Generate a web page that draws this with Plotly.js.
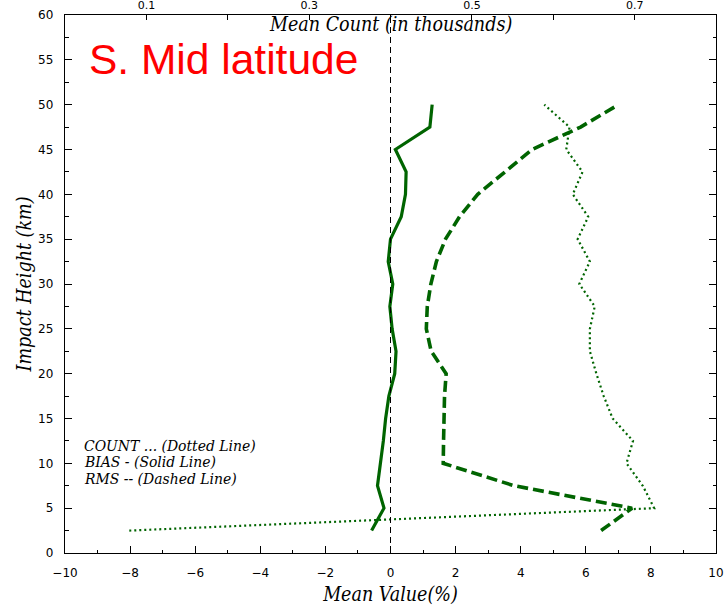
<!DOCTYPE html>
<html>
<head>
<meta charset="utf-8">
<script src="https://cdn.plot.ly/plotly-3.0.1.min.js"></script>
<style>html,body{margin:0;padding:0;background:#fff;}#chart{width:725px;height:606px;}</style>
</head>
<body>
<div id="chart"></div>
<script>
// Impact heights (km)
const heights = [2.5, 5, 7.5, 10, 12.5, 15, 17.5, 20, 22.5, 25, 27.5, 30, 32.5, 35, 37.5, 40, 42.5, 45, 47.5, 50];
// Mean count (thousands) - dotted line, top axis
const countK = [0.079, 0.724, 0.710, 0.690, 0.698, 0.673, 0.662, 0.653, 0.645, 0.645, 0.651, 0.632, 0.645, 0.630, 0.643, 0.624, 0.636, 0.616, 0.620, 0.589];
// Bias (%) - solid line
const bias = [-0.58, -0.20, -0.40, -0.30, -0.22, -0.15, -0.05, 0.13, 0.17, 0.05, -0.02, 0.07, -0.07, 0.00, 0.33, 0.46, 0.48, 0.15, 1.21, 1.28];
// RMS (%) - dashed line
const rms = [6.47, 7.42, 3.80, 1.62, 1.63, 1.64, 1.66, 1.71, 1.25, 1.10, 1.13, 1.24, 1.41, 1.69, 2.12, 2.68, 3.53, 4.35, 5.84, 7.00];
// Top axis tick labels
const countTicks = [0.1, 0.2, 0.3, 0.4, 0.5, 0.6, 0.7];
const countTickText = ['0.1', '', '0.3', '', '0.5', '', '0.7'];

const green = '#006400';
const serifFam = 'DejaVu Serif Condensed, DejaVu Serif, serif';
const serifItalic = {family: serifFam, size: 19.5, color: '#000', style: 'italic'};
const legendFont = {family: serifFam, size: 15.5, color: '#000', style: 'italic'};

const traces = [
  {x: countK, y: heights, xaxis: 'x2', yaxis: 'y', mode: 'lines', name: 'COUNT',
   line: {color: green, width: 2.2, dash: '2px,3px'}, hoverinfo: 'skip'},
  {x: bias, y: heights, mode: 'lines', name: 'BIAS',
   line: {color: green, width: 3.2}},
  {x: rms, y: heights, mode: 'lines', name: 'RMS',
   line: {color: green, width: 3.6, dash: '11px,5px'}}
];

const P = (px) => (px - 65) / 651;
const Q = (py) => (553 - py) / 538;

const layout = {
  width: 725, height: 606,
  margin: {l: 65, r: 9, t: 15, b: 53},
  paper_bgcolor: '#fff', plot_bgcolor: '#fff',
  showlegend: false,
  font: {family: 'DejaVu Sans', size: 12, color: '#000'},
  xaxis: {
    range: [-10, 10], tickvals: [-10, -8, -6, -4, -2, 0, 2, 4, 6, 8, 10],
    ticktext: ['\u221210', '\u22128', '\u22126', '\u22124', '\u22122', '0', '2', '4', '6', '8', '10'],
    ticks: 'inside', ticklen: 7, tickcolor: '#000', tickwidth: 1,
    minor: {dtick: 1, ticks: 'inside', ticklen: 3.5, tickcolor: '#000', showgrid: false},
    showline: true, linecolor: '#000', linewidth: 1.2, mirror: false,
    showgrid: false, zeroline: false, ticklabelstandoff: 8,
    title: {text: 'Mean Value(%)', font: serifItalic, standoff: 9}
  },
  xaxis2: {
    overlaying: 'x', side: 'top', range: [0, 0.8],
    tickvals: countTicks, ticktext: countTickText,
    ticks: 'inside', ticklen: 5, tickcolor: '#000',
    showline: true, linecolor: '#000', linewidth: 1.2,
    showgrid: false, zeroline: false, tickfont: {family: 'DejaVu Sans', size: 11},
    ticklabelstandoff: 0
  },
  yaxis: {
    range: [0, 60], dtick: 5, tick0: 0,
    ticks: 'inside', ticklen: 7, tickcolor: '#000',
    minor: {dtick: 2.5, ticks: 'inside', ticklen: 3.5, tickcolor: '#000', showgrid: false},
    showline: true, linecolor: '#000', linewidth: 1.2, mirror: 'ticks',
    showgrid: false, zeroline: false, ticklabelstandoff: 8,
    title: {text: 'Impact Height (km)', font: serifItalic, standoff: 1}
  },
  shapes: [
    {type: 'line', xref: 'x', yref: 'paper', x0: 0, x1: 0, y0: 0, y1: 1,
     line: {color: '#000', width: 1, dash: '6px,4px'}}
  ],
  annotations: [
    {text: 'S. Mid latitude', xref: 'paper', yref: 'paper', x: P(87), y: Q(59),
     xanchor: 'left', yanchor: 'middle', showarrow: false,
     font: {family: 'Liberation Sans', size: 42.5, color: '#ff0000'}},
    {text: 'Mean Count (in thousands)', xref: 'paper', yref: 'paper', x: P(390), y: Q(25),
     xanchor: 'center', yanchor: 'middle', showarrow: false, font: serifItalic},
    {text: 'COUNT ... (Dotted Line)', xref: 'paper', yref: 'paper', x: P(82), y: Q(445.5),
     xanchor: 'left', yanchor: 'middle', showarrow: false, font: legendFont},
    {text: 'BIAS - (Solid Line)', xref: 'paper', yref: 'paper', x: P(82), y: Q(462),
     xanchor: 'left', yanchor: 'middle', showarrow: false, font: legendFont},
    {text: 'RMS -- (Dashed Line)', xref: 'paper', yref: 'paper', x: P(82), y: Q(478.5),
     xanchor: 'left', yanchor: 'middle', showarrow: false, font: legendFont}
  ]
};

Plotly.newPlot('chart', traces, layout, {displayModeBar: false, staticPlot: true});
</script>
</body>
</html>
